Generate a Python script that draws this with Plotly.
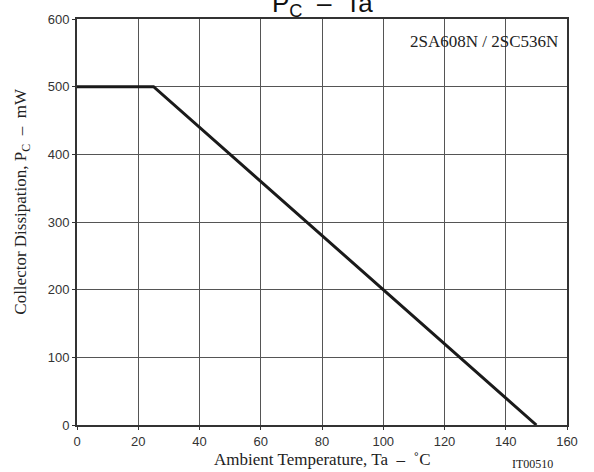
import plotly.graph_objects as go

ta = [0, 25, 150]
pc = [500, 500, 0]
x_ticks = [0, 20, 40, 60, 80, 100, 120, 140, 160]
y_ticks = [0, 100, 200, 300, 400, 500, 600]

fig = go.Figure()
fig.add_trace(go.Scatter(x=ta, y=pc, mode="lines",
                         line=dict(color="#1a1a1a", width=3), showlegend=False))

axis_common = dict(showgrid=True, gridcolor="#555555", gridwidth=1,
                   showline=True, linecolor="#333333", linewidth=2, mirror=True,
                   zeroline=False, ticks="outside", ticklen=3, tickcolor="#333333",
                   tickfont=dict(family="Liberation Sans", size=13, color="#333333"))

fig.update_layout(
    width=594, height=472,
    margin=dict(l=77, r=27, t=16, b=47),
    paper_bgcolor="white", plot_bgcolor="white",
    xaxis=dict(range=[0, 160], tickvals=x_ticks, **axis_common),
    yaxis=dict(range=[0, 600], tickvals=y_ticks, **axis_common),
    annotations=[
        dict(text="P<sub>C</sub>  –  Ta", xref="paper", yref="paper", x=0.5, y=1,
             xanchor="center", yanchor="bottom", yshift=-4, showarrow=False,
             font=dict(family="Liberation Sans", size=26, color="#111111")),
        dict(text="2SA608N / 2SC536N", xref="paper", yref="paper", x=0.985, y=0.945,
             xanchor="right", yanchor="middle", showarrow=False,
             font=dict(family="Liberation Serif", size=17, color="#222222")),
        dict(text="Ambient Temperature, Ta  –  ˚C", xref="paper", yref="paper", x=0.5, y=0,
             xanchor="center", yanchor="top", yshift=-23, showarrow=False,
             font=dict(family="Liberation Serif", size=17, color="#222222")),
        dict(text="IT00510", xref="paper", yref="paper", x=0.93, y=0,
             xanchor="center", yanchor="top", yshift=-30, showarrow=False,
             font=dict(family="Liberation Serif", size=12, color="#222222")),
        dict(text="Collector Dissipation, P<sub>C</sub>  –  mW", xref="paper", yref="paper",
             x=0, y=0.55, xanchor="center", yanchor="middle", xshift=-55, textangle=-90,
             showarrow=False,
             font=dict(family="Liberation Serif", size=17, color="#222222")),
    ],
)

fig.write_html("out.html", config={"displayModeBar": False},
               post_script="document.body.style.margin='0';document.body.style.overflow='hidden';")
